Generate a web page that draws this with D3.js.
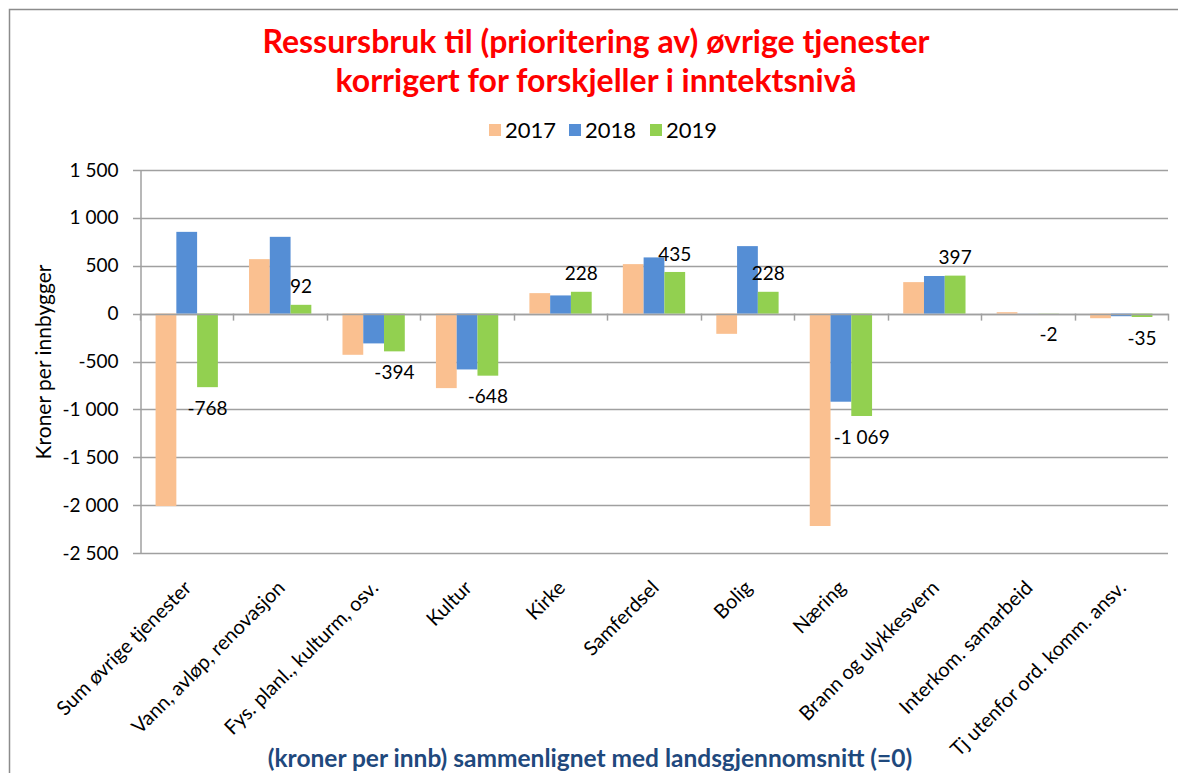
<!DOCTYPE html>
<html>
<head>
<meta charset="utf-8">
<script src="https://cdn.jsdelivr.net/npm/d3@7"></script>
<style>
  body { margin: 0; background: #fff; }
  text { font-family: Lato, "Open Sans", sans-serif; }
</style>
</head>
<body>
<script>
var width = 1178;
var height = 773;

// data
var categories = ["Sum øvrige tjenester", "Vann, avløp, renovasjon", "Fys. planl., kulturm, osv.",
  "Kultur", "Kirke", "Samferdsel", "Bolig", "Næring", "Brann og ulykkesvern",
  "Interkom. samarbeid", "Tj utenfor ord. komm. ansv."];
var years = ["2017", "2018", "2019"];
var values2017 = [-2010, 569, -430, -778, 214, 517, -211, -2218, 329, 15, -48];
var values2018 = [854, 802, -311, -583, 190, 587, 705, -920, 393, 1, -27];
var values2019 = [-768, 92, -394, -648, 228, 435, 228, -1069, 397, -2, -35];
var yTicks = [1500, 1000, 500, 0, -500, -1000, -1500, -2000, -2500];
var colors = ["#FAC090", "#558ED5", "#92D050"];

var series = [values2017, values2018, values2019];

var fmt = d3.formatLocale({ decimal: ",", thousands: "\u00a0", grouping: [3], currency: ["", " kr"], minus: "-" }).format(",d");

var svg = d3.select("body")
  .append("svg")
  .attr("width", width)
  .attr("height", height);

// outer chart border (only left + top visible)
svg.append("path")
  .attr("d", "M9.5," + height + "V9.5H" + width)
  .attr("fill", "none")
  .attr("stroke", "#8c8c8c")
  .attr("stroke-width", 1.5);

var x = d3.scaleBand().domain(categories).range([140, 1168]);
var xInner = d3.scaleBand().domain(years).range([0, x.bandwidth()]).paddingOuter(0.75);
var y = d3.scaleLinear().domain([-2500, 1500]).range([553, 170]);

// gridlines
svg.append("g")
  .selectAll("line")
  .data(yTicks)
  .enter().append("line")
    .attr("x1", 133)
    .attr("x2", 1168)
    .attr("y1", function(d) { return Math.round(y(d)) + 0.5; })
    .attr("y2", function(d) { return Math.round(y(d)) + 0.5; })
    .attr("stroke", "#a0a0a0")
    .attr("stroke-width", 1.5);

// y axis
var yAxis = d3.axisLeft(y).tickValues(yTicks).tickFormat(fmt).tickSize(0).tickPadding(22);
var gy = svg.append("g")
  .attr("transform", "translate(140.5,0)")
  .call(yAxis);
gy.select(".domain").attr("stroke", "#a0a0a0").attr("stroke-width", 1.5);
gy.selectAll("text").attr("font-size", 19).attr("fill", "#000").style("font-family", "Lato, sans-serif");

svg.append("text")
  .attr("transform", "translate(51,362) rotate(-90)")
  .attr("text-anchor", "middle")
  .attr("font-size", 21)
  .text("Kroner per innbygger");

// bars
var groups = svg.append("g")
  .selectAll("g")
  .data(series)
  .enter().append("g")
    .attr("fill", function(d, i) { return colors[i]; });

groups.selectAll("rect")
  .data(function(d) { return d; })
  .enter().append("rect")
    .attr("x", function(d, j) {
      var yr = years[series.indexOf(d3.select(this.parentNode).datum())];
      return x(categories[j]) + xInner(yr);
    })
    .attr("width", xInner.bandwidth())
    .attr("y", function(d) { return y(Math.max(0, d)); })
    .attr("height", function(d) { return Math.abs(y(d) - y(0)); });

// category axis on zero line
var xTicks = categories.map(function(c) { return x(c); }).concat([x.range()[1]]);
svg.append("line")
  .attr("x1", 140).attr("x2", 1168)
  .attr("y1", Math.round(y(0)) + 0.5).attr("y2", Math.round(y(0)) + 0.5)
  .attr("stroke", "#a0a0a0").attr("stroke-width", 1.5);
svg.append("g")
  .selectAll("line")
  .data(xTicks)
  .enter().append("line")
    .attr("x1", function(d) { return Math.round(d) + 0.5; })
    .attr("x2", function(d) { return Math.round(d) + 0.5; })
    .attr("y1", y(0))
    .attr("y2", y(0) + 7)
    .attr("stroke", "#a0a0a0")
    .attr("stroke-width", 1.5);

// data labels for 2019
svg.append("g")
  .selectAll("text")
  .data(values2019)
  .enter().append("text")
    .attr("x", function(d, j) { return x(categories[j]) + xInner("2019") + xInner.bandwidth() / 2; })
    .attr("y", function(d) { return d >= 0 ? y(d) - 18 : y(d) + 21; })
    .attr("dy", "0.35em")
    .attr("text-anchor", "middle")
    .attr("font-size", 19)
    .text(function(d) { return fmt(d); });

// rotated category labels
svg.append("g")
  .selectAll("text")
  .data(categories)
  .enter().append("text")
    .attr("transform", function(d) {
      return "translate(" + (x(d) + x.bandwidth() / 2 + 6) + ",589) rotate(-45)";
    })
    .attr("text-anchor", "end")
    .attr("font-size", 20)
    .text(function(d) { return d; });

// title
var title = svg.append("text")
  .attr("text-anchor", "middle")
  .attr("font-size", 32)
  .attr("font-weight", "bold")
  .attr("fill", "#ff0000");
title.append("tspan").attr("x", 596).attr("y", 53).text("Ressursbruk til (prioritering av) øvrige tjenester");
title.append("tspan").attr("x", 596).attr("y", 92).text("korrigert for forskjeller i inntektsnivå");

// legend
var legend = svg.append("g")
  .selectAll("g")
  .data(years)
  .enter().append("g")
    .attr("transform", function(d, i) { return "translate(" + [489, 569, 650][i] + ",124)"; });
legend.append("rect")
  .attr("width", 12).attr("height", 12)
  .attr("fill", function(d, i) { return colors[i]; });
legend.append("text")
  .attr("x", 16).attr("y", 6).attr("dy", "0.35em")
  .attr("font-size", 22)
  .text(function(d) { return d; });

// bottom axis title
svg.append("text")
  .attr("x", 590)
  .attr("y", 767)
  .attr("text-anchor", "middle")
  .attr("font-size", 24.5)
  .attr("font-weight", "bold")
  .attr("fill", "#1f497d")
  .text("(kroner per innb) sammenlignet med landsgjennomsnitt (=0)");
</script>
</body>
</html>
